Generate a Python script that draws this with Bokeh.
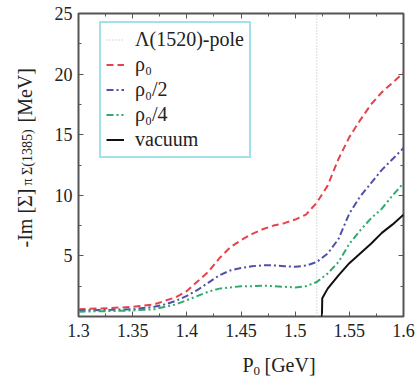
import math
from bokeh.plotting import figure
from bokeh.models import Range1d, FixedTicker, LinearAxis, Label, Legend, LegendItem
from bokeh.layouts import row, column
from bokeh.embed import file_html
from bokeh.resources import INLINE

# ---- data ----
x_med = [1.30, 1.33, 1.35, 1.37, 1.38, 1.39, 1.40, 1.41, 1.42, 1.43, 1.44, 1.45, 1.46, 1.47,
         1.48, 1.49, 1.50, 1.51, 1.52, 1.53, 1.54, 1.55, 1.56, 1.57, 1.58, 1.59, 1.60]
rho0 = [0.6, 0.7, 0.8, 1.0, 1.3, 1.6, 2.1, 2.9, 3.7, 4.8, 5.7, 6.3, 6.8, 7.2,
        7.5, 7.7, 8.0, 8.4, 9.4, 10.8, 13.0, 14.8, 16.2, 17.5, 18.5, 19.3, 20.1]
rho0_2 = [0.5, 0.55, 0.6, 0.8, 1.0, 1.3, 1.7, 2.2, 2.8, 3.4, 3.8, 4.0, 4.15, 4.22,
          4.22, 4.15, 4.1, 4.2, 4.5, 5.2, 6.4, 8.5, 9.9, 11.0, 12.1, 13.0, 13.9]
rho0_4 = [0.4, 0.45, 0.5, 0.6, 0.8, 1.0, 1.35, 1.7, 2.05, 2.3, 2.4, 2.5, 2.5, 2.55,
          2.5, 2.45, 2.4, 2.5, 2.85, 3.55, 4.5, 6.0, 7.1, 8.1, 8.9, 10.0, 11.0]
x_vac = [1.5247, 1.5250, 1.53, 1.54, 1.55, 1.56, 1.57, 1.58, 1.59, 1.60]
vac = [0.0, 1.5, 2.3, 3.4, 4.4, 5.2, 6.0, 6.9, 7.6, 8.4]
pole_x = 1.52

x_ticks = [1.3, 1.35, 1.4, 1.45, 1.5, 1.55, 1.6]
x_minor = [1.325, 1.375, 1.425, 1.475, 1.525, 1.575]
y_ticks = [5, 10, 15, 20, 25]
y_minor = [2.5, 7.5, 12.5, 17.5, 22.5]

labels = ["\u039b(1520)-pole", "\u03c1\u2080", "\u03c1\u2080/2", "\u03c1\u2080/4", "vacuum"]

FONT = "Liberation Serif"
TXT = "#222222"
FRAME = "#555555"
RED, BLUE, GREEN, GRAY = "#e4434b", "#5050a8", "#2faa6c", "#b0b0b0"

STRIP_W = 40


def blank_fig(w, h):
    f = figure(width=w, height=h, output_backend="svg", toolbar_location=None,
               x_range=Range1d(0, 1), y_range=Range1d(0, 1),
               x_axis_location=None, y_axis_location=None,
               min_border_left=0, min_border_right=0, min_border_top=0, min_border_bottom=0)
    f.xgrid.visible = False
    f.ygrid.visible = False
    f.outline_line_color = None
    f.background_fill_color = "white"
    f.border_fill_color = "white"
    return f


p = figure(width=417 - STRIP_W, height=345, output_backend="svg", toolbar_location=None,
           x_range=Range1d(1.3, 1.6), y_range=Range1d(0, 25),
           min_border_left=78 - STRIP_W, min_border_right=14, min_border_top=13, min_border_bottom=29)
p.xgrid.visible = False
p.ygrid.visible = False
p.outline_line_color = FRAME
p.outline_line_width = 2
p.background_fill_color = "white"
p.border_fill_color = "white"


def style_axis(ax, ticks, minor, show_labels):
    ax.ticker = FixedTicker(ticks=ticks, minor_ticks=minor)
    ax.major_tick_in = 5
    ax.major_tick_out = 0
    ax.minor_tick_in = 3
    ax.minor_tick_out = 0
    ax.major_tick_line_color = FRAME
    ax.minor_tick_line_color = FRAME
    ax.axis_line_color = None
    ax.major_label_text_font = FONT
    ax.major_label_text_font_size = "18px" if show_labels else "0px"
    ax.major_label_text_color = TXT if show_labels else None
    ax.axis_label = None


style_axis(p.xaxis[0], x_ticks, x_minor, True)
style_axis(p.yaxis[0], y_ticks, y_minor, True)
p.xaxis[0].major_label_standoff = 7
p.yaxis[0].major_label_standoff = 6

top = LinearAxis()
style_axis(top, x_ticks, x_minor, False)
top.major_label_standoff = 0
p.add_layout(top, "above")
right = LinearAxis()
style_axis(right, y_ticks, y_minor, False)
right.major_label_standoff = 0
p.add_layout(right, "right")

pole = p.line([pole_x, pole_x], [0, 25], line_color=GRAY, line_dash="1 2", line_width=1)
r0 = p.line(x_med, rho0, line_color=RED, line_width=2, line_dash="7 4")
r2 = p.line(x_med, rho0_2, line_color=BLUE, line_width=2, line_dash="7 3 2 3")
r4 = p.line(x_med, rho0_4, line_color=GREEN, line_width=2, line_dash="7 3 2 3 2 3")
rv = p.line(x_vac, vac, line_color="#111111", line_width=2)

legend = Legend(items=[LegendItem(label=labels[0], renderers=[pole]),
                       LegendItem(label=labels[1], renderers=[r0]),
                       LegendItem(label=labels[2], renderers=[r2]),
                       LegendItem(label=labels[3], renderers=[r4]),
                       LegendItem(label=labels[4], renderers=[rv])],
                location=(21, 158), margin=0, padding=5, spacing=2,
                label_height=21, glyph_height=21, glyph_width=18, label_standoff=11,
                label_text_font=FONT, label_text_font_size="20px", label_text_color=TXT,
                label_text_baseline="middle",
                border_line_color="#45c3d3", border_line_width=2,
                background_fill_color="white", background_fill_alpha=1.0)
p.add_layout(legend, "center")


def lab(f, text, x, y, size, angle=0.0):
    f.add_layout(Label(x=x, y=y, x_units="screen", y_units="screen", text=text, angle=angle,
                       text_font=FONT, text_font_size=size, text_color=TXT,
                       text_align="left", text_baseline="alphabetic"))


# y axis label (rotated), in its own strip to the left
ylab = blank_fig(STRIP_W, 377)
A = math.pi / 2
lab(ylab, "-Im [\u03a3]", 24, 130, "20px", A)
lab(ylab, "\u03c0 \u03a3(1385)", 27, 192, "14px", A)
lab(ylab, "[MeV]", 24, 255, "20px", A)

# x axis label, in its own strip below
xlab = blank_fig(417 - STRIP_W, 32)
lab(xlab, "P", 204 - STRIP_W, 13, "20px")
lab(xlab, "0", 215 - STRIP_W, 7, "13px")
lab(xlab, "[GeV]", 226 - STRIP_W, 13, "20px")

layout = row(ylab, column(p, xlab, spacing=0), spacing=0)
open("out.html", "w").write(file_html(layout, INLINE))
